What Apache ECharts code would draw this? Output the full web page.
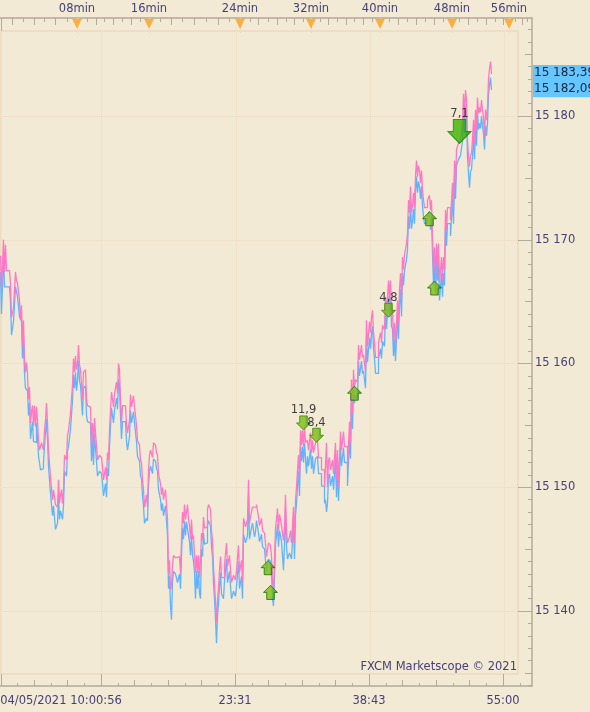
<!DOCTYPE html>
<html><head><meta charset="utf-8">
<style>html,body{margin:0;padding:0;background:#F3EAD6;overflow:hidden}#c{width:590px;height:712px}</style>
<script src="https://cdn.jsdelivr.net/npm/echarts@6/dist/echarts.min.js"></script>
</head><body><div id="c"></div>
<script>
const askTicks=[[0,15168.7],[1,15166.0],[3,15170.0],[4,15167.4],[5,15169.6],[6,15167.5],[9,15167.5],[10,15166.5],[11,15163.7],[13,15164.5],[14,15166.0],[15,15167.4],[16,15166.7],[17,15166.5],[18,15166.4],[19,15165.1],[20,15163.5],[21,15164.7],[22,15161.5],[23,15163.5],[24,15160.3],[25,15159.3],[26,15160.1],[27,15159.1],[28,15157.1],[29,15158.1],[30,15155.2],[31,15156.1],[32,15156.6],[33,15155.0],[34,15156.6],[35,15154.9],[36,15156.5],[37,15155.4],[38,15153.8],[39,15153.0],[41,15153.6],[43,15153.0],[44,15154.6],[45,15155.4],[46,15156.8],[47,15155.2],[48,15153.0],[50,15150.8],[52,15149.0],[53,15149.8],[55,15148.6],[57,15148.4],[58,15150.6],[59,15148.7],[60,15149.4],[61,15149.8],[62,15148.7],[63,15149.8],[64,15152.6],[66,15152.2],[67,15154.2],[68,15154.6],[70,15156.0],[72,15158.3],[73,15160.4],[74,15159.3],[75,15160.6],[76,15159.5],[77,15159.9],[78,15161.5],[79,15159.9],[80,15159.5],[82,15157.1],[83,15159.3],[85,15159.5],[86,15157.1],[87,15156.6],[88,15156.5],[90,15156.4],[91,15153.4],[92,15155.2],[93,15153.3],[94,15155.6],[95,15154.4],[96,15153.4],[97,15152.2],[99,15152.6],[101,15152.4],[102,15151.6],[103,15150.6],[105,15151.6],[106,15150.6],[107,15152.8],[108,15152.2],[109,15154.6],[110,15156.2],[111,15157.7],[113,15156.5],[114,15157.5],[116,15158.5],[117,15157.6],[118,15160.0],[119,15159.5],[120,15157.1],[121,15155.2],[122,15156.6],[125,15156.5],[126,15155.0],[127,15154.4],[129,15155.4],[130,15157.5],[131,15156.5],[133,15157.4],[134,15156.5],[136,15155.0],[137,15153.8],[139,15153.4],[140,15152.2],[141,15152.0],[142,15150.6],[143,15149.8],[144,15148.4],[146,15149.4],[147,15148.4],[148,15151.4],[149,15152.6],[150,15153.0],[152,15152.4],[153,15153.6],[155,15153.4],[156,15152.8],[157,15152.6],[158,15151.1],[160,15150.3],[161,15149.4],[162,15150.0],[163,15149.0],[165,15149.8],[167,15147.4],[168,15143.1],[169,15144.1],[170,15141.7],[171,15142.0],[172,15143.7],[173,15144.5],[175,15144.3],[177,15144.4],[179,15144.3],[180,15143.1],[181,15145.8],[182,15148.0],[183,15147.1],[184,15148.6],[185,15147.4],[186,15147.4],[187,15148.6],[188,15147.4],[189,15146.9],[190,15145.8],[191,15147.4],[192,15145.8],[193,15146.1],[194,15144.5],[195,15143.1],[196,15144.5],[197,15143.1],[198,15144.5],[199,15142.7],[200,15144.1],[201,15146.3],[202,15145.7],[203,15147.6],[204,15146.7],[206,15146.8],[207,15148.2],[208,15148.6],[210,15148.2],[211,15146.5],[212,15145.7],[213,15143.5],[214,15142.3],[215,15140.7],[216,15139.1],[217,15140.9],[218,15141.9],[219,15143.3],[220,15144.4],[221,15142.7],[223,15142.7],[224,15143.7],[226,15145.5],[227,15143.6],[229,15144.5],[230,15143.3],[231,15142.3],[233,15142.9],[235,15142.5],[236,15143.3],[238,15145.3],[239,15143.1],[241,15144.1],[242,15142.3],[243,15147.5],[245,15146.8],[247,15147.4],[248,15150.6],[249,15147.1],[250,15147.6],[252,15148.4],[254,15148.4],[256,15148.6],[258,15147.6],[259,15146.9],[261,15147.5],[262,15146.5],[264,15146.3],[265,15145.4],[266,15144.4],[268,15145.5],[270,15145.3],[271,15144.4],[272,15142.3],[273,15141.7],[274,15144.1],[275,15146.7],[276,15147.4],[277,15148.3],[278,15146.5],[279,15147.8],[280,15147.4],[281,15146.9],[283,15145.7],[284,15146.8],[285,15149.4],[286,15146.5],[287,15145.5],[289,15146.0],[290,15146.5],[291,15145.5],[293,15148.4],[294,15145.5],[295,15149.0],[296,15150.0],[297,15151.4],[298,15152.6],[299,15150.6],[300,15154.6],[301,15153.4],[302,15154.6],[303,15153.3],[304,15154.9],[305,15153.6],[307,15153.8],[308,15153.0],[310,15154.4],[311,15152.8],[312,15153.8],[313,15152.8],[315,15153.6],[317,15153.8],[318,15152.4],[320,15152.4],[321,15151.4],[323,15151.4],[324,15150.0],[326,15153.6],[327,15150.0],[328,15152.2],[329,15152.4],[330,15151.4],[332,15152.2],[333,15151.1],[335,15153.6],[336,15150.6],[337,15153.0],[338,15150.0],[340,15154.5],[341,15153.0],[343,15154.5],[344,15153.3],[346,15153.3],[347,15151.4],[349,15155.3],[350,15153.6],[351,15158.7],[352,15156.0],[353,15159.5],[354,15158.1],[355,15158.7],[357,15158.5],[358,15161.5],[359,15160.3],[361,15161.5],[362,15160.5],[363,15160.7],[365,15159.3],[366,15163.5],[367,15161.4],[369,15163.4],[370,15162.5],[371,15163.7],[372,15164.3],[373,15162.5],[374,15161.7],[375,15160.5],[378,15161.7],[380,15162.5],[381,15161.7],[382,15163.1],[384,15162.7],[385,15165.4],[386,15164.1],[388,15166.7],[389,15165.1],[390,15166.7],[391,15164.3],[392,15164.1],[393,15161.9],[394,15163.3],[395,15161.4],[397,15165.1],[398,15163.3],[399,15166.0],[400,15167.3],[401,15165.1],[402,15168.6],[403,15167.6],[404,15168.8],[406,15169.7],[407,15170.5],[408,15173.2],[409,15172.2],[410,15174.3],[411,15172.2],[412,15172.8],[413,15173.8],[414,15172.6],[415,15175.2],[416,15176.4],[417,15175.1],[418,15176.0],[419,15175.6],[420,15174.6],[421,15175.6],[422,15174.0],[423,15173.2],[424,15172.6],[426,15172.6],[427,15173.2],[429,15173.6],[430,15172.4],[431,15173.2],[432,15170.2],[433,15167.6],[434,15169.4],[435,15167.0],[436,15169.7],[437,15168.0],[438,15169.7],[439,15166.5],[441,15168.6],[442,15166.7],[443,15168.6],[444,15167.6],[445,15172.4],[446,15170.8],[447,15172.6],[449,15172.6],[450,15171.6],[452,15174.6],[453,15172.6],[454,15176.4],[455,15174.6],[456,15177.3],[458,15177.8],[460,15178.1],[462,15179.3],[463,15181.8],[464,15179.9],[465,15182.1],[466,15181.3],[467,15178.0],[468,15176.7],[469,15175.9],[470,15176.8],[471,15177.0],[472,15178.1],[473,15179.7],[474,15177.8],[475,15180.5],[476,15178.9],[477,15181.5],[478,15180.2],[479,15180.7],[480,15180.3],[481,15181.3],[482,15180.5],[483,15179.9],[484,15178.3],[485,15180.5],[486,15179.7],[487,15180.7],[488,15183.0],[489,15183.8],[490,15184.4],[491,15183.4]];
const bidTicks=[[0,15167.4],[1,15164.0],[3,15168.7],[4,15166.2],[9,15166.2],[10,15165.0],[11,15162.3],[13,15163.4],[15,15166.2],[17,15165.4],[19,15163.8],[21,15163.4],[22,15160.4],[23,15162.2],[24,15159.2],[25,15158.0],[27,15157.8],[28,15155.8],[29,15156.8],[30,15153.9],[32,15155.3],[33,15153.7],[35,15153.6],[36,15155.2],[37,15154.1],[38,15152.5],[39,15152.0],[40,15151.4],[42,15151.5],[43,15152.0],[44,15153.3],[46,15155.5],[47,15153.9],[48,15151.7],[49,15151.6],[50,15149.5],[52,15147.7],[53,15148.5],[55,15146.6],[57,15147.1],[58,15149.3],[59,15147.4],[60,15148.1],[62,15147.4],[63,15148.5],[64,15151.3],[66,15150.9],[67,15152.9],[68,15153.3],[70,15154.7],[72,15157.0],[73,15159.1],[74,15158.0],[75,15159.3],[76,15157.8],[77,15158.6],[78,15160.2],[79,15158.6],[80,15158.2],[82,15155.8],[83,15158.0],[85,15158.2],[86,15155.8],[87,15155.3],[88,15155.2],[90,15155.1],[91,15152.1],[92,15153.9],[93,15151.8],[94,15154.3],[95,15153.1],[96,15152.1],[97,15150.9],[99,15151.3],[101,15151.1],[102,15150.3],[103,15149.3],[105,15150.3],[106,15149.2],[107,15151.5],[108,15150.9],[109,15153.3],[110,15154.9],[111,15156.4],[113,15155.2],[114,15156.2],[116,15157.2],[117,15156.3],[118,15158.7],[119,15158.2],[120,15155.8],[121,15153.9],[122,15155.3],[125,15155.2],[126,15153.7],[127,15153.0],[129,15154.1],[130,15156.2],[131,15155.2],[133,15156.1],[134,15155.2],[136,15153.7],[137,15152.5],[139,15152.1],[140,15150.9],[141,15150.7],[142,15149.3],[143,15148.5],[144,15147.1],[146,15147.5],[147,15147.3],[148,15150.1],[149,15151.3],[150,15151.7],[152,15151.1],[153,15152.3],[155,15152.1],[156,15151.5],[157,15151.3],[158,15149.8],[160,15149.0],[161,15148.1],[162,15148.7],[163,15147.7],[165,15148.5],[167,15146.1],[168,15141.8],[169,15142.8],[170,15140.4],[171,15139.3],[172,15142.4],[173,15143.2],[175,15143.0],[177,15142.3],[179,15143.0],[180,15141.8],[181,15144.5],[182,15146.7],[183,15145.8],[184,15147.3],[185,15146.1],[186,15147.2],[187,15147.3],[188,15146.1],[189,15145.6],[190,15144.5],[191,15146.1],[192,15144.5],[193,15144.0],[194,15143.2],[195,15141.0],[196,15143.2],[197,15141.8],[198,15143.2],[199,15141.4],[200,15141.0],[201,15145.0],[202,15144.4],[203,15146.3],[204,15145.4],[206,15145.5],[207,15146.9],[208,15147.3],[210,15146.9],[211,15145.2],[212,15144.4],[213,15142.2],[214,15141.0],[215,15139.4],[216,15137.4],[217,15139.6],[218,15140.6],[219,15142.0],[220,15143.1],[221,15141.4],[223,15141.0],[224,15142.4],[226,15144.2],[227,15142.3],[229,15143.2],[230,15142.0],[231,15141.0],[233,15141.6],[235,15141.2],[236,15142.0],[238,15144.0],[239,15141.8],[241,15142.8],[242,15141.0],[243,15146.2],[245,15145.5],[247,15146.1],[248,15149.3],[249,15145.8],[250,15146.3],[252,15147.1],[254,15146.0],[255,15146.4],[256,15147.3],[258,15146.3],[259,15145.6],[261,15146.2],[262,15145.2],[264,15145.0],[265,15144.1],[266,15143.1],[268,15144.2],[270,15144.0],[271,15143.1],[272,15141.0],[273,15140.4],[274,15142.8],[275,15145.4],[276,15146.1],[277,15147.0],[278,15145.2],[279,15146.5],[280,15146.1],[281,15145.6],[283,15143.3],[284,15145.5],[285,15148.1],[286,15145.2],[287,15144.2],[289,15144.7],[290,15144.6],[291,15144.2],[293,15147.1],[294,15144.2],[295,15147.7],[296,15148.7],[297,15150.1],[298,15151.3],[299,15149.3],[300,15153.3],[301,15152.1],[302,15153.3],[303,15152.0],[304,15153.6],[305,15152.3],[306,15151.1],[307,15152.5],[308,15151.7],[310,15153.1],[311,15151.5],[312,15152.5],[313,15151.1],[315,15152.3],[317,15152.5],[318,15151.1],[320,15151.1],[321,15150.1],[323,15150.1],[324,15148.7],[325,15149.0],[326,15148.0],[327,15148.7],[328,15150.9],[329,15151.1],[330,15150.1],[332,15150.9],[333,15149.8],[335,15152.3],[336,15149.2],[337,15151.7],[338,15148.9],[340,15153.2],[341,15151.7],[343,15153.2],[344,15152.0],[346,15152.0],[347,15150.1],[349,15154.0],[350,15152.3],[351,15157.4],[352,15154.7],[353,15158.2],[354,15156.8],[355,15157.4],[357,15157.2],[358,15160.2],[359,15159.0],[361,15160.2],[362,15159.2],[363,15159.4],[365,15158.0],[366,15162.2],[367,15160.1],[369,15162.1],[370,15161.2],[371,15162.4],[372,15163.0],[373,15161.2],[374,15160.4],[375,15159.2],[378,15160.4],[380,15161.2],[381,15160.4],[382,15161.8],[384,15161.4],[385,15164.1],[386,15162.8],[388,15165.4],[389,15163.8],[390,15165.4],[391,15163.0],[392,15162.8],[393,15160.6],[394,15162.0],[395,15160.2],[397,15163.8],[398,15162.0],[399,15164.7],[400,15166.0],[401,15163.8],[402,15167.3],[403,15166.3],[404,15167.5],[406,15168.4],[407,15169.2],[408,15171.9],[409,15170.9],[410,15173.0],[411,15170.9],[412,15171.5],[413,15172.5],[414,15171.3],[415,15173.9],[416,15175.1],[417,15173.8],[418,15174.7],[419,15174.3],[420,15173.3],[421,15174.3],[422,15172.7],[423,15171.9],[424,15171.3],[426,15171.3],[427,15171.9],[429,15172.3],[430,15170.8],[431,15171.9],[432,15168.9],[433,15166.3],[434,15168.1],[435,15165.7],[436,15168.4],[437,15166.7],[438,15168.4],[439,15165.1],[441,15167.3],[442,15165.4],[443,15167.3],[444,15166.3],[445,15171.1],[446,15169.5],[447,15171.3],[449,15171.3],[450,15170.3],[452,15173.3],[453,15171.3],[454,15175.1],[455,15173.3],[456,15176.0],[458,15176.5],[460,15176.8],[462,15178.0],[463,15180.5],[464,15178.6],[465,15180.8],[466,15180.0],[467,15176.7],[468,15175.4],[469,15174.2],[470,15175.5],[471,15175.7],[472,15176.8],[473,15178.4],[474,15176.5],[475,15179.2],[476,15177.6],[477,15180.2],[478,15178.9],[479,15179.4],[480,15179.0],[481,15180.0],[482,15179.2],[483,15178.6],[484,15177.3],[485,15179.2],[486,15178.4],[487,15179.4],[488,15181.7],[489,15182.5],[490,15183.1],[491,15182.1]];
const upSignals=[[267.5,15143.5],[270,15141.5],[354,15157.6],[429,15171.7],[434,15166.1]];
const downSignals=[[303,15155.2,'11,9'],[316,15154.2,'8,4'],[388,15164.3,'4,8']];
const bigDownSignals=[[459,15178.75,'7,1']];
const priceLabels=[15140,15150,15160,15170,15180];
const priceMedium=[15135,15145,15155,15165,15175,15185];
const priceMinor=[15134,15136,15137,15138,15139,15141,15142,15143,15144,15146,15147,15148,15149,15151,15152,15153,15154,15156,15157,15158,15159,15161,15162,15163,15164,15166,15167,15168,15169,15171,15172,15173,15174,15176,15177,15178,15179,15181,15182,15183,15184,15186,15187];
const minuteLabels=['08min','16min','24min','32min','40min','48min','56min'];
const minuteTicks=[77,149,240,311,380,452,509];
const topMedium=[12,34,55,96,113,131,171,194,218,258,277,294,328,346,363,398,416,434,468,486,503,522];
const topMinor=[23,44,67,87,104,122,140,160,182,206,229,250,268,286,303,320,337,354,372,389,407,425,443,459,477,495,515,527];
const timeLabels=['04/05/2021 10:00:56','23:31','38:43','55:00'];
const timeLabelTicks=[61,235,369,503];
const timeMajor=[1,101,235.5,369.5,503.5];
const timeMedium=[34,67,134,168,201,268,302,335,402,436,469];
const timeMinor=[17,51,84,118,151,185,218,252,285,319,352,386,419,453,486,520];
const lastAsk='15 183,39', lastBid='15 182,09', lastAskPrice=15183.39, lastBidPrice=15182.09;
const copyright='FXCM Marketscope © 2021';

const BG='#F3EAD6', TICK='#B3AA98', TXT='#45407A', GRIDC='#F0E1C8', FONT='"DejaVu Sans"';
const X0={min:-0.5,max:517.5}, Y0={min:15134.91,max:15186.87};
const X1={min:0,max:532}, Y1={min:15133.94,max:15187.92};
const ARROW_UP='path://M6.5 0L13 7L10 7L10 14L3 14L3 7L0 7Z';
const ARROW_DN='path://M3 0L10 0L10 7L13 7L6.5 14L0 7L3 7Z';
const grad=(a,b)=>({type:'linear',x:0,y:0,x2:1,y2:0,colorStops:[{offset:0,color:b},{offset:.55,color:b},{offset:1,color:a}]});
function xTicks(pos,vals,len,extra){return Object.assign({type:'value',gridIndex:1,position:pos,...X1,
  axisLine:{show:false,onZero:false},splitLine:{show:false},axisLabel:{show:false},
  axisTick:{show:true,inside:true,length:len,customValues:vals,lineStyle:{color:TICK,width:1}}},extra||{});}
function yTicks(vals,len,extra){return Object.assign({type:'value',gridIndex:1,position:'right',...Y1,
  axisLine:{show:false,onZero:false},splitLine:{show:false},axisLabel:{show:false},
  axisTick:{show:true,inside:true,length:len,customValues:vals,lineStyle:{color:TICK,width:1}}},extra||{});}
const labelStyle={show:true,color:TXT,fontFamily:FONT,fontSize:11.5,hideOverlap:false,showMinLabel:true,showMaxLabel:true};
const chart=echarts.init(document.getElementById('c'),null,{renderer:'canvas',width:590,height:712});
const option={animation:false,backgroundColor:BG,
 title:{text:copyright,right:73,top:661,padding:0,textStyle:{color:TXT,fontFamily:FONT,fontSize:11.5,fontWeight:'normal'}},
 grid:[{left:0,top:31,width:518,height:643,show:true,borderColor:'#EEDDC3',borderWidth:2,backgroundColor:'transparent',outerBoundsMode:'none'},
       {left:0,top:18,width:532,height:668,show:false,outerBoundsMode:'none'}],
 xAxis:[
  {type:'value',gridIndex:0,...X0,axisLine:{show:false},axisLabel:{show:false},axisTick:{show:false,customValues:timeMajor},splitLine:{show:true,lineStyle:{color:GRIDC,width:1}}},
  xTicks('top',topMedium,7,{axisLine:{show:true,onZero:false,lineStyle:{color:TICK,width:1.5}}}),
  xTicks('top',topMinor,4),
  xTicks('top',minuteTicks,15,{axisTick:{show:true,inside:true,length:15,customValues:minuteTicks,lineStyle:{color:'#EDDCC0',width:1}},
     axisLabel:{...labelStyle,customValues:minuteTicks,margin:3,formatter:(v)=>minuteLabels[minuteTicks.indexOf(v)]}}),
  xTicks('top',[1],13),
  xTicks('bottom',timeMajor,12,{axisLine:{show:true,onZero:false,lineStyle:{color:TICK,width:1.5}},
     axisLabel:{...labelStyle,customValues:timeLabelTicks,margin:9,formatter:(v)=>timeLabels[timeLabelTicks.indexOf(v)]}}),
  xTicks('bottom',timeMedium,6),
  xTicks('bottom',timeMinor,3)
 ],
 yAxis:[
  {type:'value',gridIndex:0,...Y0,axisLine:{show:false},axisLabel:{show:false},axisTick:{show:false,customValues:priceLabels},splitLine:{show:true,lineStyle:{color:GRIDC,width:1}}},
  yTicks(priceLabels,14,{axisLine:{show:true,onZero:false,lineStyle:{color:TICK,width:1.5}},
     axisLabel:{...labelStyle,customValues:priceLabels,margin:3,align:'left',formatter:(v)=>String(v).slice(0,2)+' '+String(v).slice(2)}}),
  yTicks(priceMedium,7),
  yTicks(priceMinor,4)
 ],
 series:[
  {name:'Bid',type:'line',xAxisIndex:0,yAxisIndex:0,data:bidTicks,step:'end',showSymbol:false,symbol:'none',lineStyle:{color:'#5FB4FF',width:1.3},z:3},
  {name:'Ask',type:'line',xAxisIndex:0,yAxisIndex:0,data:askTicks,step:'end',showSymbol:false,symbol:'none',lineStyle:{color:'#FF78C4',width:1.3},z:4},
  {type:'scatter',xAxisIndex:0,yAxisIndex:0,data:upSignals,symbol:ARROW_UP,symbolSize:[14,14],z:6,
    itemStyle:{color:grad('#2F8600','#7DBE14'),borderColor:'#1C6E00',borderWidth:1}},
  {type:'scatter',xAxisIndex:0,yAxisIndex:0,data:downSignals,symbol:ARROW_DN,symbolSize:[14,14],z:6,
    itemStyle:{color:grad('#2F8600','#7DBE14'),borderColor:'#3A8A00',borderWidth:1},
    label:{show:true,position:'top',distance:-1,formatter:p=>p.value[2],color:'#111',fontFamily:FONT,fontSize:11.5}},
  {type:'scatter',xAxisIndex:0,yAxisIndex:0,data:bigDownSignals,symbol:ARROW_DN,symbolSize:[23,24],z:6,
    itemStyle:{color:grad('#159400','#3DB400'),borderColor:'#128A00',borderWidth:1},
    label:{show:true,position:'top',distance:-1,formatter:p=>p.value[2],color:'#111',fontFamily:FONT,fontSize:11.5}},
  {type:'scatter',xAxisIndex:3,yAxisIndex:1,data:minuteTicks.map(x=>[x,15187.45]),symbol:'triangle',symbolRotate:180,symbolSize:[10,10],z:6,
    itemStyle:{color:'#FF9F1C'}}
 ]};
chart.setOption(option);
const yAsk=chart.convertToPixel({yAxisIndex:1},lastAskPrice), yBid=chart.convertToPixel({yAxisIndex:1},lastBidPrice);
const tag=(t,y)=>({type:'text',left:534,top:y-7,z:20,style:{text:t,fill:'#16243A',font:'12px "DejaVu Sans"'}});
chart.setOption({graphic:[{type:'rect',z:19,shape:{x:533,y:yAsk-9,width:57,height:yBid-yAsk+16},style:{fill:'#66C6FF'}},tag(lastAsk,yAsk),tag(lastBid,yBid)]});
</script></body></html>
